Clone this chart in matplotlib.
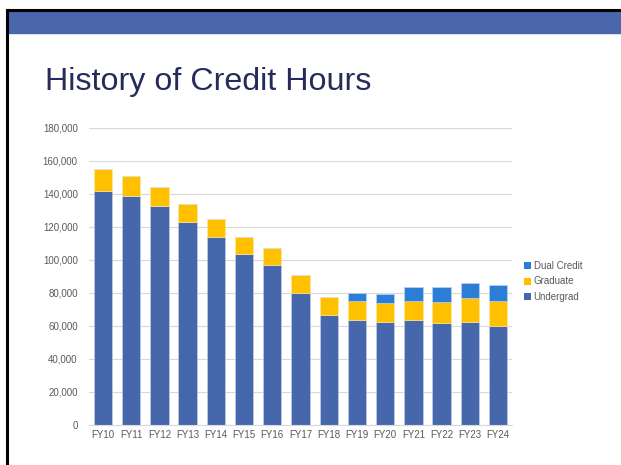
import matplotlib
matplotlib.use("Agg")
import matplotlib.pyplot as plt
from matplotlib.patches import Rectangle
from matplotlib.lines import Line2D

plt.rcParams['font.family'] = ['Liberation Sans', 'DejaVu Sans']

years = ['FY10', 'FY11', 'FY12', 'FY13', 'FY14', 'FY15', 'FY16', 'FY17',
         'FY18', 'FY19', 'FY20', 'FY21', 'FY22', 'FY23', 'FY24']
undergrad = [141800, 138200, 132700, 122600, 113900, 103400, 96500, 79400,
             66500, 63500, 62100, 63300, 61700, 61900, 59900]
graduate = [13300, 12700, 11500, 10900, 10700, 10100, 10500, 11500,
            10900, 11500, 11500, 11300, 12300, 14800, 14900]
dual_credit = [0, 0, 0, 0, 0, 0, 0, 0,
               0, 4700, 5700, 8700, 9100, 9200, 9700]
y_ticks = [0, 20000, 40000, 60000, 80000, 100000, 120000, 140000, 160000, 180000]

c_under = '#4767AD'
c_grad = '#FFC000'
c_dual = '#2B7DD6'
c_text = '#595959'

fig = plt.figure(figsize=(6.21, 4.65), dpi=100)

# slide frame: blue band on top, black border left/top
fig.patches.append(Rectangle((6.5 / 621, 1 - 33.5 / 465), 1, 22 / 465,
                             transform=fig.transFigure, color='#4A67AC', zorder=0))
fig.add_artist(Line2D([6.5 / 621, 6.5 / 621], [0, 1 - 10.5 / 465],
                      transform=fig.transFigure, color='black', lw=2.2))
fig.add_artist(Line2D([6.5 / 621, 1], [1 - 10.5 / 465, 1 - 10.5 / 465],
                      transform=fig.transFigure, color='black', lw=2.2))

fig.text(45 / 621, 1 - 90 / 465, 'History of Credit Hours', fontsize=23.2,
         color='#272B5A', ha='left', va='baseline')

ax = fig.add_axes([88.9 / 621, 1 - 424.5 / 465, (512.1 - 88.9) / 621, 297 / 465])

x = range(len(years))
bottom2 = [u + g for u, g in zip(undergrad, graduate)]
ax.bar(x, undergrad, width=0.65, color=c_under, edgecolor='#C9D3EA', linewidth=0.4,
       label='Undergrad', zorder=2)
ax.bar(x, graduate, width=0.65, bottom=undergrad, color=c_grad, edgecolor='#FFE9A8',
       linewidth=0.4, label='Graduate', zorder=2)
ax.bar(x, dual_credit, width=0.65, bottom=bottom2, color=c_dual, edgecolor='#C4DBF3',
       linewidth=0.4, label='Dual Credit', zorder=2)

ax.set_xlim(-0.5, len(years) - 0.5)
ax.set_ylim(0, 180000)
ax.set_yticks(y_ticks)
ax.set_yticklabels([f'{v:,}' for v in y_ticks])
ax.set_xticks(list(x))
ax.set_xticklabels(years)
ax.tick_params(axis='both', length=0, labelsize=7, colors=c_text)
ax.tick_params(axis='y', pad=8)
ax.tick_params(axis='x', pad=4)
ax.grid(axis='y', color='#D9D9D9', linewidth=0.8, zorder=0)
for s in ['top', 'right', 'left']:
    ax.spines[s].set_visible(False)
ax.spines['bottom'].set_color('#D9D9D9')
ax.spines['bottom'].set_linewidth(0.8)

handles, labels = ax.get_legend_handles_labels()
leg = fig.legend(handles[::-1], labels[::-1], loc='center left',
                 bbox_to_anchor=(519 / 621, 1 - 281.5 / 465), frameon=False,
                 fontsize=7, handlelength=0.7, handleheight=0.7, handletextpad=0.3,
                 labelspacing=0.55, borderpad=0)
for t in leg.get_texts():
    t.set_color(c_text)
for h in leg.legend_handles:
    h.set_edgecolor('none')

fig.savefig('out.png', dpi=100)
